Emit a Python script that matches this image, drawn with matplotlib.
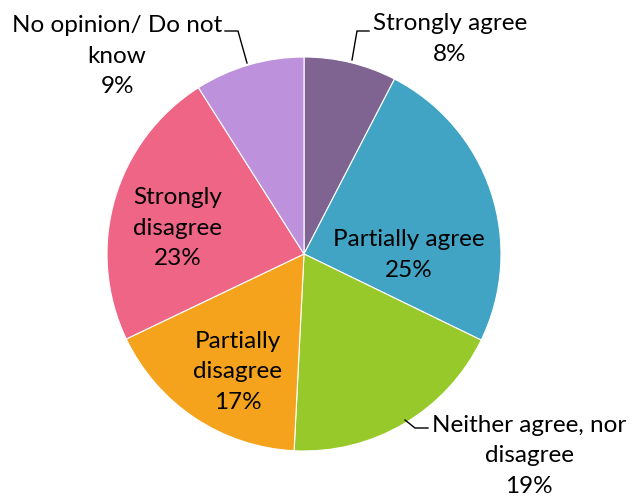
import matplotlib
matplotlib.use("Agg")
import matplotlib.pyplot as plt

categories = ["Strongly agree", "Partially agree", "Neither agree, nor\ndisagree",
              "Partially\ndisagree", "Strongly\ndisagree", "No opinion/ Do not\nknow"]
values = [7.6, 24.6, 18.6, 17.1, 23.1, 9.0]
colors = ["#7F6391", "#41A4C4", "#98C92A", "#F5A31D", "#EF6586", "#BD91DB"]

W, H = 632, 501
fig = plt.figure(figsize=(W / 100, H / 100), dpi=100)
ax = fig.add_axes([0, 0, 1, 1])
plt.rcParams['font.family'] = ['Lato', 'DejaVu Sans']

cx, cy, r = 304, H - 254, 197
ax.pie(values, colors=colors, startangle=90, counterclock=False,
       center=(cx, cy), radius=r,
       wedgeprops=dict(edgecolor="white", linewidth=0.8))
ax.set_xlim(0, W)
ax.set_ylim(0, H)
ax.set_aspect("equal")
ax.axis("off")

# label positions (pixel coords, y from top)
label_pos = [(450, 39), (409, 255), (529, 456), (238, 372), (178, 228), (117, 56)]
for cat, v, (x, y) in zip(categories, values, label_pos):
    ax.text(x, H - y, f"{cat}\n{round(v)}%", ha="center", va="center",
            fontsize=17.5, color="#000000", linespacing=1.55)

# leader lines
leaders = [
    [(352, 60), (357, 31), (369, 31)],
    [(405, 420), (415, 428), (428, 428)],
    [(247, 63), (238, 31), (225, 31)],
]
for pts in leaders:
    xs = [p[0] for p in pts]
    ys = [H - p[1] for p in pts]
    ax.plot(xs, ys, color="black", linewidth=1.0)

fig.savefig("out.png", dpi=100)
